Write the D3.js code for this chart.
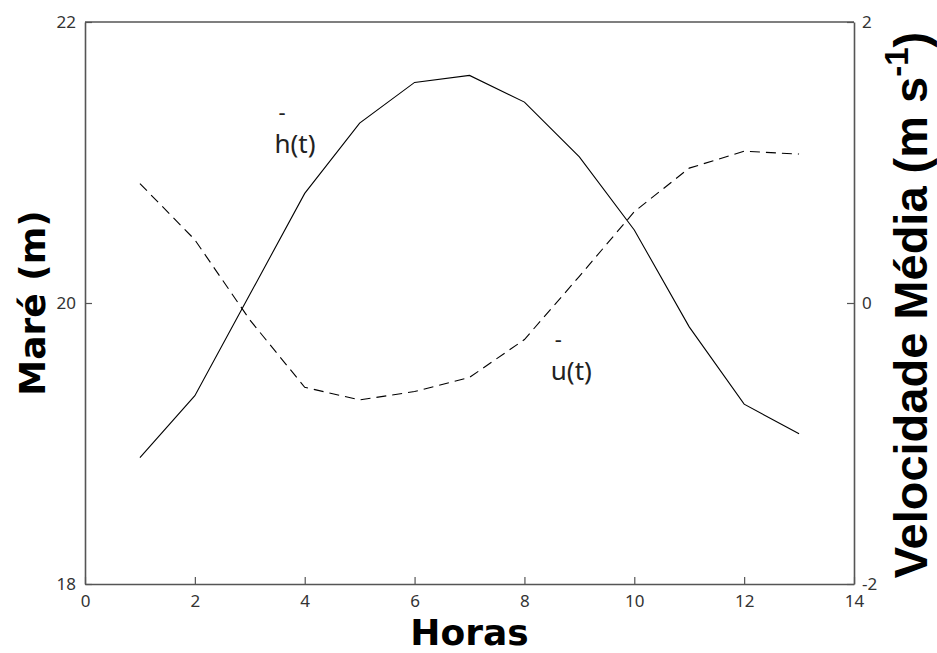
<!DOCTYPE html>
<html>
<head>
<meta charset="utf-8">
<script src="https://cdn.jsdelivr.net/npm/d3@7"></script>
<style>
  html, body { margin: 0; padding: 0; background: #fff; }
  svg { display: block; }
</style>
</head>
<body>
<svg id="chart" width="937" height="653"></svg>
<script>
// Hourly series: tide height (left axis) and mean velocity (right axis)
const hours = [1, 2, 3, 4, 5, 6, 7, 8, 9, 10, 11, 12, 13];
const tide = [18.90, 19.34, 20.06, 20.78, 21.28, 21.57, 21.62, 21.43, 21.04, 20.52, 19.83, 19.28, 19.07];
const velocity = [0.85, 0.45, -0.12, -0.60, -0.69, -0.63, -0.53, -0.26, 0.19, 0.65, 0.96, 1.08, 1.06];

const xTicks = [0, 2, 4, 6, 8, 10, 12, 14];
const yLeftTicks = [18, 20, 22];
const yRightTicks = [-2, 0, 2];

const svg = d3.select("#chart");
const m = { left: 85, right: 854, top: 22, bottom: 584 };

const x = d3.scaleLinear().domain([0, 14]).range([m.left, m.right]);
const yL = d3.scaleLinear().domain([18, 22]).range([m.bottom, m.top]);
const yR = d3.scaleLinear().domain([-2, 2]).range([m.bottom, m.top]);

const axisColor = "#555";
const tickFont = "'Noto Sans', 'Open Sans', sans-serif";
const plain = d => String(d);

// Bottom axis, ticks pointing into the plot
const gx = svg.append("g").attr("transform", `translate(0,${m.bottom})`)
  .call(d3.axisBottom(x).tickValues(xTicks).tickFormat(plain).tickSizeInner(-7).tickSizeOuter(0).tickPadding(11));
// Left axis
const gl = svg.append("g").attr("transform", `translate(${m.left},0)`)
  .call(d3.axisLeft(yL).tickValues(yLeftTicks).tickFormat(plain).tickSizeInner(-7).tickSizeOuter(0).tickPadding(9));
// Right axis
const gr = svg.append("g").attr("transform", `translate(${m.right},0)`)
  .call(d3.axisRight(yR).tickValues(yRightTicks).tickFormat(plain).tickSizeInner(-7).tickSizeOuter(0).tickPadding(8));

[gx, gl, gr].forEach(g => {
  g.select(".domain").attr("stroke", axisColor).attr("stroke-width", 1.6);
  g.selectAll(".tick line").attr("stroke", axisColor).attr("stroke-width", 1.2);
  g.selectAll(".tick text").attr("fill", "#333").style("font-family", tickFont).style("font-size", "17px");
});
gr.selectAll(".tick text").attr("text-anchor", "start");

// Top frame line
svg.append("line")
  .attr("x1", m.left).attr("x2", m.right).attr("y1", m.top).attr("y2", m.top)
  .attr("stroke", axisColor).attr("stroke-width", 1.6);

// Tide curve (solid)
svg.append("path")
  .datum(hours.map((h, i) => [h, tide[i]]))
  .attr("fill", "none").attr("stroke", "#000").attr("stroke-width", 1.1)
  .attr("d", d3.line().x(d => x(d[0])).y(d => yL(d[1])));

// Velocity curve (dashed)
svg.append("path")
  .datum(hours.map((h, i) => [h, velocity[i]]))
  .attr("fill", "none").attr("stroke", "#000").attr("stroke-width", 1.1)
  .attr("stroke-dasharray", "10,6")
  .attr("d", d3.line().x(d => x(d[0])).y(d => yR(d[1])));

// Curve labels with overbar mark
const curveFont = "'Noto Sans', 'Open Sans', sans-serif";
function curveLabel(px, py, txt) {
  svg.append("text").attr("x", px + 4).attr("y", py - 33)
    .attr("fill", "#222").style("font-family", curveFont).style("font-size", "22px").text("-");
  svg.append("text").attr("x", px).attr("y", py)
    .attr("fill", "#222").style("font-family", curveFont).style("font-size", "26px").text(txt);
}
curveLabel(x(3.45), yL(21.07), "h(t)");
curveLabel(x(8.48), yR(-0.55), "u(t)");

// Axis titles
svg.append("text")
  .attr("x", (m.left + m.right) / 2).attr("y", 645)
  .attr("text-anchor", "middle")
  .style("font-family", "'DejaVu Sans', sans-serif").style("font-weight", "bold").style("font-size", "36px")
  .text("Horas");

svg.append("text")
  .attr("transform", `translate(45,${(m.top + m.bottom) / 2}) rotate(-90)`)
  .attr("text-anchor", "middle")
  .style("font-family", "'DejaVu Sans', sans-serif").style("font-weight", "bold").style("font-size", "36px")
  .text("Maré (m)");

const rt = svg.append("text")
  .attr("transform", `translate(927,${(m.top + m.bottom) / 2 + 2}) rotate(-90)`)
  .attr("text-anchor", "middle")
  .style("font-family", "'Liberation Sans', Arial, sans-serif").style("font-weight", "bold").style("font-size", "47px");
rt.append("tspan").text("Velocidade Média (m s");
rt.append("tspan").attr("dy", -19).style("font-size", "33px").text("-1");
rt.append("tspan").attr("dy", 19).text(")");
</script>
</body>
</html>
